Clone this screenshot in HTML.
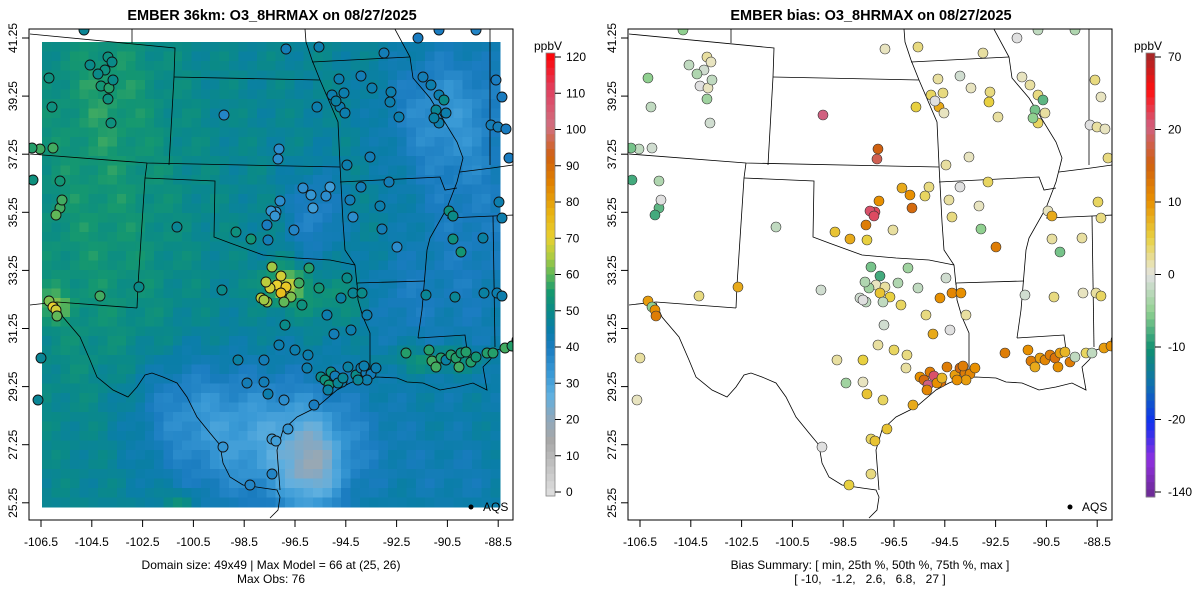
<!DOCTYPE html>
<html><head><meta charset="utf-8">
<style>
html,body{margin:0;padding:0;background:#fff;}
svg{display:block;font-family:"Liberation Sans",Arial,sans-serif;}
</style></head>
<body>
<svg id="s" width="1200" height="600" xmlns="http://www.w3.org/2000/svg"></svg>
<script>
const S=document.getElementById('s');let H='';
function hex(c){return [parseInt(c.substr(1,2),16),parseInt(c.substr(3,2),16),parseInt(c.substr(5,2),16)];}
function interp(stops,v){if(v<=stops[0][0])return stops[0][1];
 for(let i=1;i<stops.length;i++){if(v<=stops[i][0]){const a=stops[i-1],b=stops[i];const t=(v-a[0])/(b[0]-a[0]);const A=hex(a[1]),B=hex(b[1]);
 return 'rgb('+A.map((x,k)=>Math.round(x+(B[k]-x)*t)).join(',')+')';}}return stops[stops.length-1][1];}
const LC=[[0,'#e0e0e0'],[15,'#a8a8a8'],[22,'#88a8c0'],[27,'#60b0e0'],[33,'#3a9ad6'],[40,'#1a7cc0'],[45,'#0a7ea8'],[50,'#0a8a88'],[55,'#15986f'],[60,'#60b858'],[65,'#b0cc40'],[70,'#e8d030'],[77,'#e8b010'],[85,'#e08000'],[92,'#d06010'],[100,'#d07080'],[110,'#e04060'],[120,'#ff0000']];
const BC=[[0,'#a02828'],[0.5,'#ff1010'],[1,'#d06080'],[1.5,'#d06010'],[2,'#e89000'],[2.5,'#e8d040'],[2.9,'#e8e4c0'],[3,'#e0e0e0'],[3.5,'#90d090'],[4,'#109070'],[4.5,'#1070b0'],[5,'#1030f0'],[5.5,'#9030e0'],[6,'#6a2a90']];
function bpos(b){const k=[[70,0],[20,1],[10,2],[0,3],[-10,4],[-20,5],[-140,6]];
 for(let i=1;i<k.length;i++){if(b>=k[i][0]){const a=k[i-1],c=k[i];return a[1]+(b-a[0])/(c[0]-a[0])*(c[1]-a[1]);}}return 6;}
function bcol(b){return interp(BC,bpos(b));}
function txt(x,y,t,o){o=o||{};H+=`<text x="${x}" y="${y}" font-size="${o.fs||12}" text-anchor="${o.a||'middle'}" ${o.b?'font-weight="bold"':''} ${o.r?`transform="rotate(-90 ${x} ${y})"`:''} style="white-space:pre">${t}</text>`;}
function g(x,y,cx,cy,sx,sy){return Math.exp(-(((x-cx)/sx)**2+((y-cy)/sy)**2));}
function field(x,y){let v=48;
 v+=6*g(x,y,100,200,90,220);
 v+=3*g(x,y,110,90,40,60);
 v-=9*g(x,y,440,110,60,60);
 v-=8*g(x,y,470,220,70,180);
 v-=10*g(x,y,315,215,28,45);
 v-=7*g(x,y,390,300,40,40);
 v-=17*g(x,y,270,440,110,70);
 v-=16*g(x,y,312,470,30,45);
 v-=6*g(x,y,180,400,50,50);
 v+=16*g(x,y,285,285,22,18);
 v+=10*g(x,y,440,360,45,12);
 v+=10*g(x,y,55,305,15,15);
 v+=6*g(x,y,340,300,50,25);
 v+=8*g(x,y,180,500,15,10);
 v-=4*g(x,y,460,480,60,40);
 v+=2.5*Math.sin(x*0.13+y*0.07)*Math.cos(y*0.11);
 return v;}
const x0=42,y0=42,cw=(500-42)/49,ch=(507-42)/49;
H+='<g shape-rendering="crispEdges">';
for(let i=0;i<49;i++)for(let j=0;j<49;j++){const cx=x0+i*cw,cy=y0+j*ch;
 H+=`<rect x="${cx.toFixed(1)}" y="${cy.toFixed(1)}" width="${(cw+0.6).toFixed(1)}" height="${(ch+0.6).toFixed(1)}" fill="${interp(LC,field(cx+cw/2,cy+ch/2))}"/>`;}
H+='</g>';
const lines=[
[[30,34],[175,48],[174,77],[169,165]],
[[132,28],[132,43]],
[[174,77],[320,80]],
[[305,29],[306,42],[312,60],[320,80],[338,122],[340,165],[343,222],[345,250],[355,265],[357,285]],
[[312,62],[390,58],[410,57]],
[[390,20],[410,57],[413,78],[430,98],[457,142],[463,158],[457,182],[447,208],[430,238],[427,250],[422,310],[418,338]],
[[490,22],[490,165]],
[[460,172],[492,168],[513,165]],
[[30,154],[147,163],[340,167]],
[[340,182],[440,177],[445,190],[457,188]],
[[147,163],[145,178],[138,285],[137,308]],
[[145,178],[215,181],[214,237],[230,243],[263,255],[297,258],[330,260],[355,265]],
[[357,283],[425,281]],
[[447,218],[493,216],[514,215]],
[[493,216],[495,347]],
[[30,305],[57,302],[137,308]],
[[57,303],[63,317],[80,337],[90,360],[97,377],[113,390],[128,397],[137,387],[145,375],[152,373],[163,377],[177,383],[187,397],[197,417],[210,433],[220,445],[223,463],[230,477],[243,485],[263,488],[277,490],[280,497],[278,510],[270,518]],
[[280,490],[277,450],[283,430],[297,417],[317,407],[337,390],[350,383],[363,378],[377,377],[397,378],[407,382],[423,383],[440,390],[457,387],[473,383],[487,390],[483,367],[490,360],[497,350],[513,345]],
[[370,377],[370,333],[363,317],[358,300],[357,283]],
[[418,338],[465,335],[467,350],[470,354]]
];
function poly(dx){let s='';for(const L of lines){s+=`<polyline fill="none" stroke="#000" stroke-width="0.8" points="${L.map(p=>(p[0]+dx)+','+p[1]).join(' ')}"/>`;}return s;}
H+=`<clipPath id="c1"><rect x="29" y="29" width="484" height="491"/></clipPath><clipPath id="c2"><rect x="628" y="29" width="484" height="491"/></clipPath>`;
H+=`<g clip-path="url(#c1)">${poly(0)}</g><g clip-path="url(#c2)">${poly(599)}</g>`;
const pts=[
[707,57,52,2],[711,62,50,1],[704,70,52,-1],[697,74,50,-3],[700,86,54,0],[708,88,56,1],[712,80,50,-2],[707,99,52,-4],[710,123,52,-1],[689,65,50,-2],[683,30,48,-5],[648,78,52,-5],[651,107,52,-2],[639,149,58,-2],[652,148,58,-1],[631,148,56,-6],[659,181,54,-3],[632,180,52,-8],[659,208,58,-7],[655,215,60,-8],[661,200,58,0],
[823,115,38,20],[878,149,36,15],[877,159,36,18],
[885,49,42,1],[918,47,44,3],[916,107,44,5],[939,107,44,8],[931,95,44,4],[935,101,46,0],[943,93,44,3],[944,113,44,1],[938,79,44,2],[960,76,42,-1],[971,88,44,1],[983,53,42,2],[989,102,44,5],[998,117,44,2],[990,92,44,3],[1017,38,40,0],[1038,30,40,-2],[1075,30,38,-3],[1022,77,42,1],[1030,85,44,2],[1038,95,44,3],[1035,110,48,-6],[1045,113,44,2],[1038,123,44,4],[1043,100,50,-7],[1095,80,40,3],[1101,97,40,1],[1090,125,42,0],[1097,127,42,2],[1105,129,40,1],[1108,158,40,3],[1033,118,46,-5],
[969,157,42,1],[946,165,44,2],[960,187,42,0],[929,187,32,3],[949,200,42,2],[988,182,42,4],[902,188,36,8],[910,195,34,10],[912,208,32,14],[879,201,36,10],[875,212,34,28],[870,211,34,25],[874,216,34,27],[866,225,40,12],[893,230,38,2],[835,232,52,6],[850,239,54,8],[867,240,42,5],[776,227,48,-2],[925,196,36,4],[979,206,44,1],[952,217,36,3],[981,229,42,-5],[996,247,36,12],[1048,211,52,1],[1052,216,50,8],[1052,239,52,2],[1082,238,46,2],[1101,218,44,3],[1098,202,44,4],[1060,252,54,-6],[1119,268,42,-2],
[871,267,64,-6],[880,276,68,-8],[876,285,70,1],[885,287,72,2],[880,293,74,6],[869,288,68,-4],[860,298,66,-1],[866,302,64,-2],[890,297,62,5],[898,283,58,-3],[908,268,56,-4],[918,288,54,-2],[901,305,52,4],[883,302,60,-2],[865,282,66,-3],[863,300,64,0],[884,325,50,-1],[946,278,50,-1],[940,298,46,10],[952,293,48,11],[961,293,50,10],
[821,290,50,-1],[738,287,50,8],[699,296,58,3],[648,301,62,9],[652,307,70,-5],[655,310,68,10],[656,316,60,12],[640,358,48,2],[637,400,48,1],
[863,360,42,5],[837,360,46,2],[846,383,42,-4],[863,382,42,1],[867,394,44,6],[878,345,44,2],[894,350,44,4],[907,355,44,3],[906,368,44,2],[926,315,44,3],[966,315,44,2],[950,330,44,0],[933,334,42,8],[883,400,36,4],[822,447,34,0],[849,485,38,5],[871,474,38,3],[887,429,34,6],[871,439,32,4],[875,441,32,6],[913,405,40,8],[947,367,46,12],[941,382,44,13],
[920,377,50,10],[924,380,52,14],[928,385,54,20],[930,372,52,12],[934,376,42,25],[937,383,48,10],[927,390,46,11],[942,378,48,7],[955,375,50,9],[960,368,44,14],[965,373,42,12],[970,374,42,11],[966,380,44,9],[957,380,48,10],[963,366,44,12],[975,368,44,10],
[1005,353,56,12],[1028,350,56,10],[1031,361,58,12],[1035,367,58,8],[1040,358,56,9],[1045,360,46,11],[1050,355,56,12],[1055,358,56,13],[1058,367,58,10],[1060,353,54,9],[1065,352,56,7],[1070,362,56,12],[1075,357,54,-2],[1086,353,56,4],[1092,353,56,-2],[1104,348,58,9],[1111,346,56,10],[1116,340,54,12],
[1025,295,48,-1],[1054,297,48,3],[1083,293,46,1],[1096,293,44,2],[1101,296,44,4]
];
let lp='',rp='';
for(const p of pts){lp+=`<circle cx="${p[0]-599}" cy="${p[1]}" r="5" fill="${interp(LC,p[2])}" stroke="#111" stroke-width="0.9"/>`;
 rp+=`<circle cx="${p[0]}" cy="${p[1]}" r="5" fill="${bcol(p[3])}" stroke="#333" stroke-width="0.6"/>`;}
H+=`<g clip-path="url(#c1)">${lp}</g><g clip-path="url(#c2)">${rp}</g>`;
function axes(dx){
 H+=`<rect x="${29+dx}" y="29" width="484" height="491" fill="none" stroke="#000" stroke-width="1"/>`;
 const lats=['41.25','39.25','37.25','35.25','33.25','31.25','29.25','27.25','25.25'];
 lats.forEach((l,k)=>{const y=38+k*58.1;H+=`<line x1="${22+dx}" x2="${29+dx}" y1="${y}" y2="${y}" stroke="#000"/>`;txt(17+dx,y,l,{r:1});});
 const lons=['-106.5','-104.5','-102.5','-100.5','-98.5','-96.5','-94.5','-92.5','-90.5','-88.5'];
 lons.forEach((l,k)=>{const x=41+k*50.8+dx;H+=`<line x1="${x}" x2="${x}" y1="520" y2="527" stroke="#000"/>`;txt(x,546,l);});
 H+=`<circle cx="${471+dx}" cy="507" r="2.5" fill="#000"/>`;txt(483+dx,511,'AQS',{a:'start'});
}
axes(0);axes(599);
txt(272,20,'EMBER 36km: O3_8HRMAX on 08/27/2025',{fs:14.5,b:1});
txt(871,20,'EMBER bias: O3_8HRMAX on 08/27/2025',{fs:14.5,b:1});
txt(271,569,'Domain size: 49x49 | Max Model = 66 at (25, 26)');
txt(271,583,'Max Obs: 76');
txt(870,569,'Bias Summary: [ min, 25th %, 50th %, 75th %, max ]');
txt(870,583,'[ -10,   -1.2,   2.6,   6.8,   27 ]');
function cbar(x,y1,y2,colf){const n=60;const h=(y2-y1)/n;for(let i=0;i<n;i++){H+=`<rect x="${x}" y="${(y1+i*h).toFixed(2)}" width="9" height="${(h+0.5).toFixed(2)}" fill="${colf(1-(i+0.5)/n)}"/>`;}
 H+=`<rect x="${x}" y="${y1}" width="9" height="${y2-y1}" fill="none" stroke="#888" stroke-width="0.8"/>`;}
cbar(546,53,496,t=>interp(LC,t*120));
txt(548,50,'ppbV');
for(let k=0;k<=12;k++){const y=492-k*(492-57)/12;H+=`<line x1="555" x2="561" y1="${y}" y2="${y}" stroke="#000"/>`;txt(566,y+4,String(k*10),{a:'start'});}
cbar(1146,53,497,t=>interp(BC,(1-t)*6));
txt(1148,50,'ppbV');
const bl=['70','20','10','0','-10','-20','-140'];
bl.forEach((l,k)=>{const y=57+k*(492-57)/6;H+=`<line x1="1155" x2="1161" y1="${y}" y2="${y}" stroke="#000"/>`;txt(1168,y+4,l,{a:'start'});});
S.innerHTML=H;
</script>
</body></html>
